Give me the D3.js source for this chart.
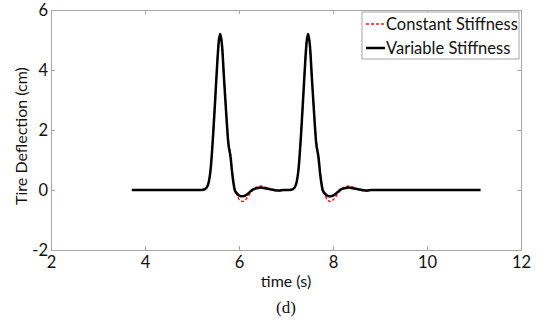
<!DOCTYPE html>
<html>
<head>
<meta charset="utf-8">
<script src="https://cdn.jsdelivr.net/npm/d3@7"></script>
<style>
  body { margin: 0; background: #fff; }
  text { font-family: Lato, "Open Sans", sans-serif; }
</style>
</head>
<body>
<div id="chart"></div>
<script>
// time samples (s)
var time = [3.72, 5.20, 5.28, 5.34, 5.40, 5.45, 5.50, 5.54, 5.57, 5.60, 5.64, 5.68, 5.73, 5.77, 5.82, 5.86,
    5.91, 5.96, 6.02, 6.08, 6.15, 6.22, 6.30, 6.38, 6.46, 6.55, 6.65, 6.75, 6.85, 6.95, 7.07,
    7.15, 7.21, 7.27, 7.32, 7.37, 7.41, 7.44, 7.47, 7.51, 7.55, 7.60, 7.64, 7.69, 7.73,
    7.78, 7.83, 7.89, 7.95, 8.02, 8.09, 8.17, 8.25, 8.33, 8.42, 8.52, 8.62, 8.72, 8.82, 11.14];

// tire deflection (cm), constant stiffness
var constantStiffness = [0, 0, 0.03, 0.17, 0.75, 1.85, 3.2, 4.3, 4.95, 5.2, 4.8, 3.75, 2.55, 1.7, 1.15, 0.55,
    0.0, -0.18, -0.35, -0.38, -0.3, -0.15, 0.02, 0.1, 0.13, 0.1, 0.03, -0.02, -0.03, 0, 0,
    0.03, 0.17, 0.75, 1.85, 3.2, 4.3, 4.95, 5.2, 4.8, 3.75, 2.55, 1.7, 1.15, 0.55,
    0.0, -0.18, -0.35, -0.38, -0.3, -0.15, 0.02, 0.1, 0.13, 0.1, 0.03, -0.02, -0.03, 0, 0];

// tire deflection (cm), variable stiffness
var variableStiffness = [0, 0, 0.03, 0.17, 0.75, 1.85, 3.2, 4.3, 4.95, 5.2, 4.8, 3.75, 2.5, 1.6, 1.1, 0.5,
    0.0, -0.12, -0.2, -0.21, -0.17, -0.08, 0.02, 0.06, 0.08, 0.06, 0.03, 0.0, -0.02, 0, 0,
    0.03, 0.17, 0.75, 1.85, 3.2, 4.3, 4.95, 5.2, 4.8, 3.75, 2.5, 1.6, 1.1, 0.5,
    0.0, -0.12, -0.2, -0.21, -0.17, -0.08, 0.02, 0.06, 0.08, 0.06, 0.03, 0.0, -0.02, 0, 0];

var xTicks = [2, 4, 6, 8, 10, 12];
var yTicks = [-2, 0, 2, 4, 6];
var seriesNames = ["Constant Stiffness", "Variable Stiffness"];

// set the dimensions and margins of the graph
var margin = { top: 10, right: 22, bottom: 71, left: 51 },
    width = 543 - margin.left - margin.right,
    height = 321 - margin.top - margin.bottom;

var svg = d3.select("#chart")
    .append("svg")
    .attr("width", 543)
    .attr("height", 321)
    .append("g")
    .attr("transform", "translate(" + margin.left + "," + margin.top + ")");

var x = d3.scaleLinear().domain([2, 12]).range([0, width]);
var y = d3.scaleLinear().domain([-2, 6]).range([height, 0]);

var axisGrey = "#a6a6a6";
var plain = function (d) { return String(d); };

// axes, ticks pointing inward
var gx = svg.append("g")
    .attr("transform", "translate(0," + height + ")")
    .call(d3.axisBottom(x).tickValues(xTicks).tickFormat(plain).tickSize(-4).tickPadding(6).tickSizeOuter(0));
var gy = svg.append("g")
    .call(d3.axisLeft(y).tickValues(yTicks).tickFormat(plain).tickSize(-4).tickPadding(3).tickSizeOuter(0));
var gt = svg.append("g")
    .call(d3.axisTop(x).tickValues(xTicks).tickSize(-4).tickFormat("").tickSizeOuter(0));
var gr = svg.append("g")
    .attr("transform", "translate(" + width + ",0)")
    .call(d3.axisRight(y).tickValues(yTicks).tickSize(-4).tickFormat("").tickSizeOuter(0));

[gx, gy, gt, gr].forEach(function (g) {
    g.select(".domain").attr("stroke", axisGrey);
    g.selectAll(".tick line").attr("stroke", axisGrey);
    g.selectAll(".tick text")
        .attr("fill", "#111")
        .style("font-size", "16.5px")
        .style("font-family", "Lato, 'Open Sans', sans-serif");
});

// axis labels
svg.append("text")
    .attr("text-anchor", "middle")
    .attr("x", width / 2)
    .attr("y", height + 37)
    .style("font-size", "16px")
    .attr("fill", "#111")
    .text("time (s)");

svg.append("text")
    .attr("text-anchor", "middle")
    .attr("transform", "rotate(-90)")
    .attr("x", -(height / 2) - 6)
    .attr("y", -margin.left + 27)
    .style("font-size", "16px")
    .attr("fill", "#111")
    .text("Tire Deflection (cm)");

svg.append("text")
    .attr("text-anchor", "middle")
    .attr("x", width / 2)
    .attr("y", height + 63)
    .style("font-size", "17px")
    .style("font-family", "'Liberation Serif', 'DejaVu Serif', serif")
    .attr("fill", "#111")
    .text("(d)");

// lines
var line = function (values) {
    return d3.line()
        .x(function (d, i) { return x(time[i]); })
        .y(function (d) { return y(d); })
        .curve(d3.curveMonotoneX)(values);
};

svg.append("path")
    .attr("d", line(constantStiffness))
    .attr("fill", "none")
    .attr("stroke", "#ff1a1a")
    .attr("stroke-width", 1.5)
    .attr("stroke-dasharray", "3,2");

svg.append("path")
    .attr("d", line(variableStiffness))
    .attr("fill", "none")
    .attr("stroke", "#000")
    .attr("stroke-width", 2.5)
    .attr("stroke-linejoin", "round");

// legend
var legend = svg.append("g").attr("transform", "translate(" + (362 - margin.left) + "," + (12 - margin.top) + ")");
legend.append("rect")
    .attr("width", 157)
    .attr("height", 47)
    .attr("fill", "#fff")
    .attr("stroke", axisGrey);

var legendStyles = [
    { stroke: "#ff1a1a", width: 1.5, dash: "3,2" },
    { stroke: "#000", width: 2.5, dash: null }
];

seriesNames.forEach(function (name, i) {
    var yy = 12 + i * 24;
    legend.append("line")
        .attr("x1", 4).attr("x2", 23)
        .attr("y1", yy).attr("y2", yy)
        .attr("stroke", legendStyles[i].stroke)
        .attr("stroke-width", legendStyles[i].width)
        .attr("stroke-dasharray", legendStyles[i].dash);
    legend.append("text")
        .attr("x", 24)
        .attr("y", yy)
        .attr("dy", "0.36em")
        .style("font-size", "16.5px")
        .attr("fill", "#111")
        .text(name);
});
</script>
</body>
</html>
